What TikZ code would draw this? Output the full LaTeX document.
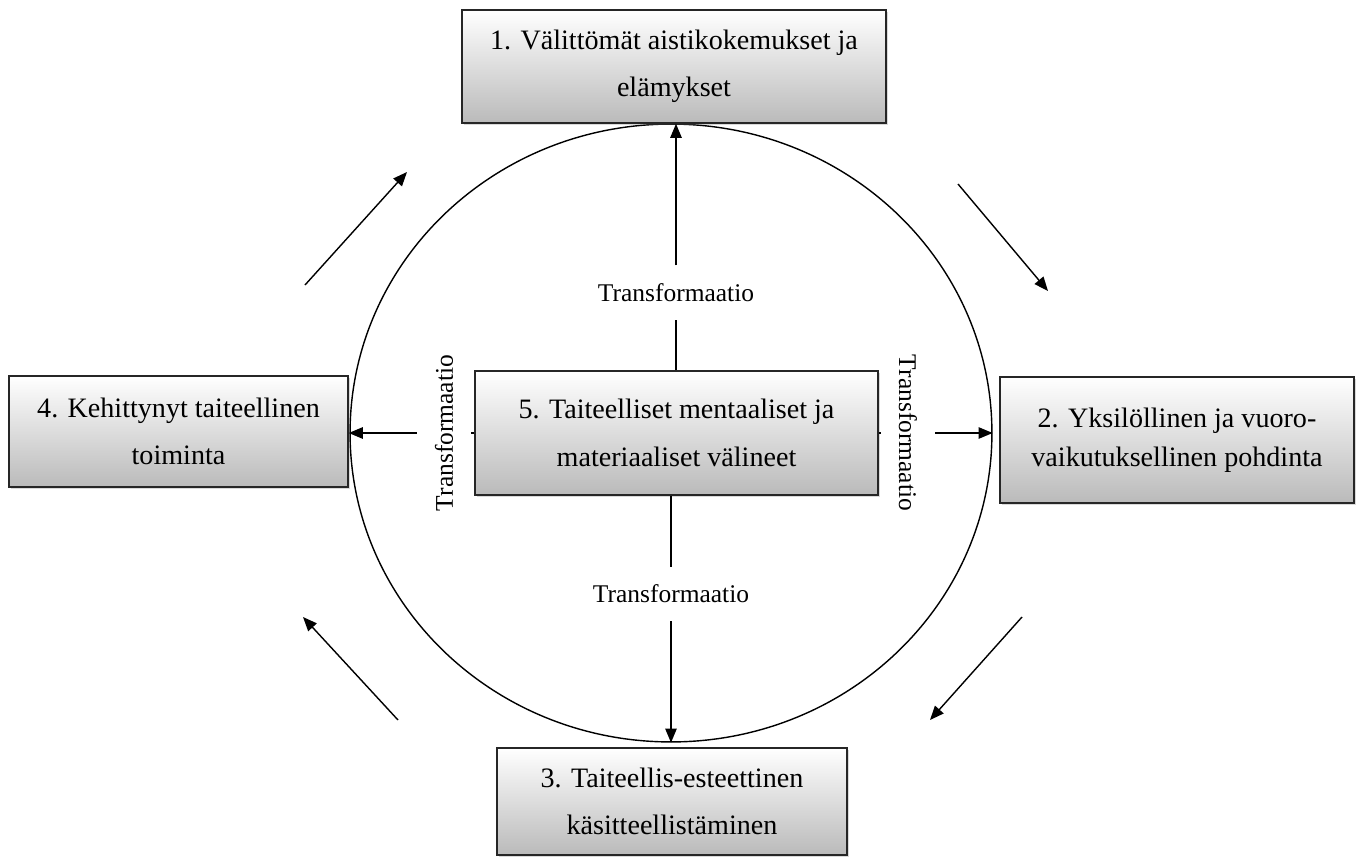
\documentclass[tikz,border=0pt]{standalone}
\usepackage{fontspec}
\setmainfont{Liberation Serif}
\usetikzlibrary{positioning, arrows.meta, shapes.geometric, shadows}

\begin{document}
\begin{tikzpicture}[%
    x=0.02cm, y=-0.02cm,
    font=\fontsize{16}{27}\selectfont,
    >={Triangle[length=8pt, width=6.5pt]},
    line width=0.8pt,
    % Boxes
    stage/.style={draw=black!85, line width=0.9pt, rectangle, align=center, inner sep=0pt,
        top color=white, bottom color=black!27,
        drop shadow={shadow xshift=1.2pt, shadow yshift=-1.2pt, opacity=0.3}},
    trans/.style={font=\fontsize{14.5}{17}\selectfont, text height=10pt, text depth=0pt,
        inner xsep=2pt, inner ysep=10pt},
    cycleline/.style={draw, ellipse, line width=0.8pt, inner sep=0pt}
]
\useasboundingbox (0,0) rectangle (1357,859);

% --- Circle ---
\node[cycleline, minimum width=12.84cm, minimum height=12.36cm] (circ) at (671,433) {};

% --- Stages ---
\node[stage, minimum width=8.48cm, minimum height=2.26cm] (exp) at (674,66.5) {1. Välittömät aistikokemukset ja\\elämykset};
\node[stage, minimum width=7.08cm, minimum height=2.52cm, font=\fontsize{16}{22}\selectfont] (refl) at (1177,440) {2. Yksilöllinen ja vuoro-\\vaikutuksellinen pohdinta};
\node[stage, minimum width=7.0cm, minimum height=2.14cm] (concept) at (672,801.5) {3. Taiteellis-esteettinen\\käsitteellistäminen};
\node[stage, minimum width=6.78cm, minimum height=2.22cm] (action) at (178.5,431.5) {4. Kehittynyt taiteellinen\\toiminta};
\node[stage, minimum width=8.06cm, minimum height=2.48cm] (tools) at (676.5,433) {5. Taiteelliset mentaaliset ja\\materiaaliset välineet};

% --- Transformaatio labels ---
\node[trans] (tup) at (676,292.5) {Transformaatio};
\node[trans] (tdown) at (671,594) {Transformaatio};
\node[trans, rotate=90] (tleft) at (444,433) {Transformaatio};
\node[trans, rotate=-90] (tright) at (908,433) {Transformaatio};

% Connections from 5
\draw (tools.north -| tup) -- (tup);
\draw[->] (tup) -- (tup |- exp.south);
\draw (tools.south -| tdown) -- (tdown);
\draw[->] (tdown) -- (tdown |- circ.south);
\draw (tools.west) -- (tleft);
\draw[->] (tleft) -- (tleft -| action.east);
\draw (tools.east) -- (tright);
\draw[->] (tright) -- (tright -| circ.east);

% --- Cycle arrows ---
\coordinate (cycA) at (305,285);
\coordinate (cycAend) at (407,172);
\coordinate (cycB) at (958,184);
\coordinate (cycBend) at (1048,291);
\coordinate (cycC) at (1022,617);
\coordinate (cycCend) at (930,720);
\coordinate (cycD) at (398,720);
\coordinate (cycDend) at (303,617);

\draw[->] (cycA) -- (cycAend);
\draw[->] (cycB) -- (cycBend);
\draw[->] (cycC) -- (cycCend);
\draw[->] (cycD) -- (cycDend);

\end{tikzpicture}
\end{document}
